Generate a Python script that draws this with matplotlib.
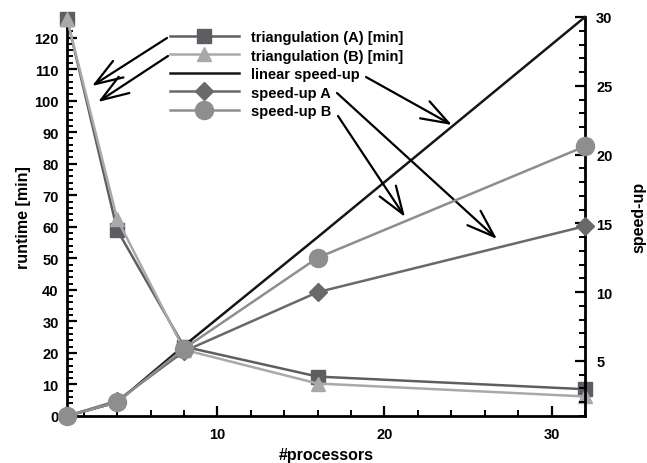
import matplotlib
matplotlib.use("Agg")
import matplotlib.pyplot as plt
from matplotlib.ticker import MultipleLocator

plt.rcParams['font.family'] = ['Liberation Sans', 'DejaVu Sans']
plt.rcParams['font.weight'] = 'bold'

processors = [1, 4, 8, 16, 32]
runtime_a = [126, 59, 22, 12.5, 8.5]
runtime_b = [126, 62.5, 21, 10.3, 6.2]
linear_speedup = [1, 2, 6.1, 14, 30]
speedup_a = [1, 2.1, 5.7, 10, 14.8]
speedup_b = [1, 2.0, 5.9, 12.5, 20.6]

labels = ["triangulation (A) [min]", "triangulation (B) [min]",
          "linear speed-up", "speed-up A", "speed-up B"]

W, H = 647, 464
fig = plt.figure(figsize=(W / 100, H / 100), dpi=100)
ax = fig.add_axes([67 / W, 1 - 417 / H, (585 - 67) / W, (417 - 18) / H])
ax2 = ax.twinx()

c_a = '#5e5e62'
c_b = '#a9a9a9'
c_lin = '#161616'
c_sa = '#696969'
c_sb = '#8e8e8e'

la, = ax.plot(processors, runtime_a, color=c_a, lw=1.8, marker='s', ms=10, clip_on=False, zorder=3)
lb, = ax.plot(processors, runtime_b, color=c_b, lw=1.8, marker='^', ms=10, clip_on=False, zorder=4)
ll, = ax2.plot(processors, linear_speedup, color=c_lin, lw=1.8, clip_on=False, zorder=3)
lsa, = ax2.plot(processors, speedup_a, color=c_sa, lw=1.8, marker='D', ms=9, clip_on=False, zorder=4)
lsb, = ax2.plot(processors, speedup_b, color=c_sb, lw=1.8, marker='o', ms=13, clip_on=False, zorder=5)

ax.set_xlim(1, 32)
ax.set_ylim(0, 126.5)
ax2.set_ylim(1, 30)

for a in (ax, ax2):
    a.spines['top'].set_visible(False)
    for s in a.spines.values():
        s.set_linewidth(2)
        s.set_color('black')

ax.spines['right'].set_visible(False)
ax2.spines['left'].set_visible(False)
ax2.spines['bottom'].set_visible(False)

ax.xaxis.set_major_locator(MultipleLocator(10))
ax.xaxis.set_minor_locator(MultipleLocator(2))
ax.yaxis.set_major_locator(MultipleLocator(10))
ax.yaxis.set_minor_locator(MultipleLocator(2))
ax2.yaxis.set_major_locator(MultipleLocator(5))
ax2.yaxis.set_minor_locator(MultipleLocator(1))

ax.tick_params(axis='both', which='major', direction='in', length=7, width=1.6, labelsize=10.5, pad=6)
ax.tick_params(axis='both', which='minor', direction='in', length=4, width=1.4)
ax.tick_params(axis='x', which='major', pad=8)
ax2.tick_params(axis='y', which='major', direction='in', length=7, width=1.6, labelsize=10.5, pad=8)
ax2.tick_params(axis='y', which='minor', direction='in', length=4, width=1.4)

for t in ax.get_xticklabels() + ax.get_yticklabels() + ax2.get_yticklabels():
    t.set_fontweight('bold')

ax.set_xlabel('#processors', fontsize=11.5, fontweight='bold', labelpad=4)
ax.set_ylabel('runtime [min]', fontsize=11.5, fontweight='bold', labelpad=2)
ax2.set_ylabel('speed-up', fontsize=11.5, fontweight='bold', rotation=90, labelpad=14)

leg = ax2.legend([la, lb, ll, lsa, lsb], labels, loc='upper left',
                 bbox_to_anchor=(170 / W, 1 - 31 / H), bbox_transform=fig.transFigure,
                 frameon=False, borderpad=0, borderaxespad=0, handlelength=4.7,
                 handletextpad=0.85, labelspacing=0.31,
                 prop={'size': 10.5, 'weight': 'bold'})

arrows = [((167, 39), (92, 87)), ((168, 57), (98, 103)),
          ((366, 78), (452, 126)), ((337, 94), (497, 240)),
          ((338, 117), (405, 218))]
for (x0, y0), (x1, y1) in arrows:
    ax2.annotate('', xy=(x1, H - y1), xytext=(x0, H - y0),
                 xycoords='figure pixels', textcoords='figure pixels',
                 arrowprops=dict(arrowstyle='->,head_length=1.0,head_width=0.35',
                                 color='black', lw=1.6, mutation_scale=20,
                                 shrinkA=0, shrinkB=0))

fig.savefig('out.png', dpi=100)
